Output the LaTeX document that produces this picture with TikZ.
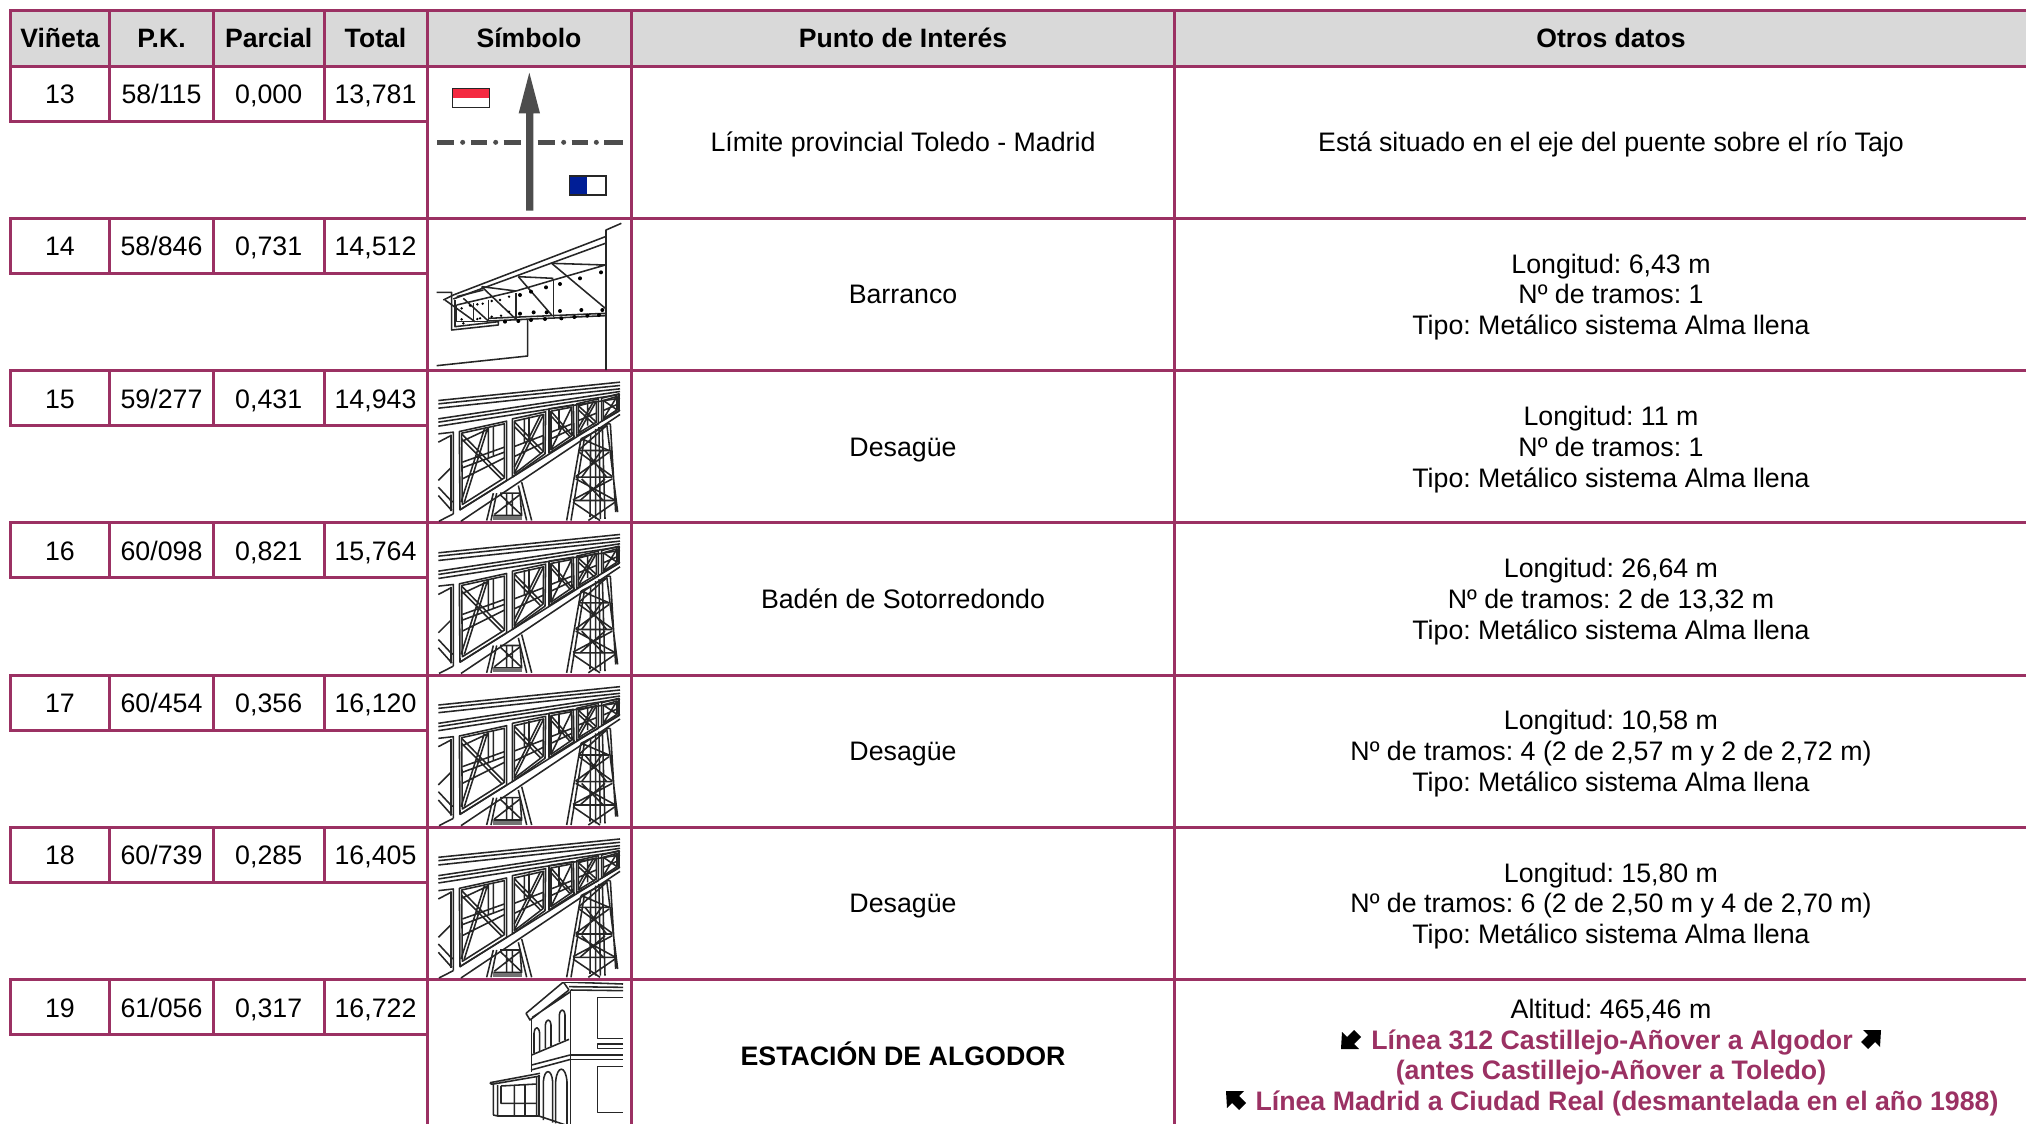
\documentclass[tikz,border=0pt]{standalone}
\usepackage{fontspec}
\setmainfont{Liberation Sans}
\definecolor{plum}{HTML}{9B3163}
\definecolor{headgrey}{HTML}{D9D9D9}
\definecolor{symgrey}{HTML}{4D4D4D}
\definecolor{flagred}{HTML}{F42A41}
\definecolor{flagblue}{HTML}{001E96}
\tikzset{
  gridline/.style={draw=plum,line width=1.5pt},
  celltext/.style={anchor=base,inner sep=0pt,font=\fontsize{13.37}{15.5}\selectfont\frenchspacing,text=black},
  headtext/.style={celltext,font=\fontsize{13.3}{15.5}\selectfont\bfseries},
  linktext/.style={celltext,font=\fontsize{13.37}{15.5}\selectfont\frenchspacing\bfseries,text=plum},
  sketch/.style={draw=black!85,line width=0.78pt,line join=round},
  tinydot/.style={fill=black,draw=none},
}
\newcommand\rowcells[7]{%
  \begin{scope}[shift={(0,#1)}]
    \draw[gridline] (10.3,0) -- (10.3,55) -- (427,55);
    \draw[gridline] (109.7,0) -- (109.7,55);
    \draw[gridline] (213.3,0) -- (213.3,55);
    \draw[gridline] (324.3,0) -- (324.3,55);
    \node[celltext] (v#2) at (60,37.6) {#3};
    \node[celltext] (k#2) at (161.5,37.6) {#4};
    \node[celltext] (p#2) at (268.7,37.6) {#5};
    \node[celltext] (t#2) at (375.5,37.6) {#6};
    \node[celltext] (i#2) at (903,85.6) {#7};
  \end{scope}}
\newcommand\threelines[5]{%
  \begin{scope}[shift={(0,#1)}]
    \node[celltext] (oa#2) at (1611,54.8) {#3};
    \node[celltext] (ob#2) at (1611,85.6) {#4};
    \node[celltext] (oc#2) at (1611,116.6) {#5};
  \end{scope}}
\newcommand\trestle[1]{%
  \begin{scope}[shift={(425,#1)},x=0.16667pt,y=-0.16667pt]
    % deck
    \draw[sketch] (40,90)--(585,35) (40,100)--(585,45) (40,113)--(585,55);
    \draw[sketch] (40,145)--(585,63) (40,155)--(585,72) (40,167)--(585,83);
    % lower chord
    \draw[sketch] (105,418)--(585,118) (108,452)--(585,132) (42,452)--(85,430);
    % left stub
    \draw[sketch] (40,190)--(85,185)--(85,430) (78,192)--(78,422) (40,215)--(78,195) (40,330)--(78,292) (40,350)--(82,395) (40,375)--(80,420);
    % panel 2
    \draw[sketch] (103,183)--(245,152)--(245,330)--(105,418)--cycle;
    \draw[sketch] (110,188)--(238,160)--(238,322)--(112,402)--cycle;
    \draw[sketch] (110,190)--(238,320) (110,205)--(232,328) (188,172)--(118,395) (178,176)--(108,395) (112,275)--(238,230) (112,292)--(238,245) (112,325)--(238,262) (190,172)--(190,265) (205,168)--(205,258) (112,212)--(185,178);
    % panel 3
    \draw[sketch] (262,145)--(362,124)--(360,250)--(262,320)--cycle;
    \draw[sketch] (268,152)--(356,132)--(354,244)--(268,310)--cycle;
    \draw[sketch] (268,154)--(354,242) (268,168)--(346,248) (356,132)--(268,308) (346,134)--(268,290) (268,228)--(355,195) (268,258)--(355,217) (298,142)--(298,215) (312,138)--(312,212);
    % panel 4
    \draw[sketch] (372,115)--(445,103)--(447,200)--(372,248)--cycle;
    \draw[sketch] (378,122)--(440,110)--(441,195)--(378,238)--cycle;
    \draw[sketch] (378,122)--(441,195) (378,136)--(436,200) (440,110)--(378,238) (378,185)--(441,160) (378,205)--(441,175) (402,116)--(402,175);
    % panel 5
    \draw[sketch] (455,100)--(520,85)--(520,160)--(455,196)--cycle;
    \draw[sketch] (460,106)--(514,92)--(514,155)--(460,188)--cycle;
    \draw[sketch] (460,106)--(514,155) (460,118)--(508,162) (514,92)--(460,188) (505,94)--(460,172) (460,150)--(514,128) (488,98)--(488,165);
    % panel 6
    \draw[sketch] (530,83)--(582,70)--(582,122)--(530,152)--cycle;
    \draw[sketch] (535,90)--(576,78)--(576,118)--(535,145)--cycle;
    \draw[sketch] (535,90)--(576,118) (576,78)--(535,145) (535,120)--(576,102);
    % right tower
    \draw[sketch] (468,205)--(425,450) (478,205)--(438,450);
    \draw[sketch] (545,160)--(578,425) (556,160)--(572,425) (545,160)--(556,160);
    \draw[sketch] (497,190)--(495,440) (512,175)--(512,445) (522,170)--(526,445) (532,168)--(540,445);
    \draw[sketch] (468,205)--(545,165) (462,240)--(552,240) (452,320)--(562,320) (444,390)--(570,390);
    \draw[sketch] (462,245)--(562,318) (552,245)--(452,318) (452,325)--(568,388) (562,325)--(444,388) (444,395)--(525,450) (570,395)--(490,450) (470,205)--(552,240) (545,165)--(462,238) (480,240)--(545,320) (530,240)--(470,320) (470,325)--(535,390) (540,325)--(465,390);
    % left small tower
    \draw[sketch] (205,368)--(185,450) (215,368)--(198,450) (290,335)--(320,450) (280,345)--(305,450);
    \draw[sketch] (225,368)--(285,368)--(290,435)--(205,435);
    \draw[sketch] (225,372)--(288,432) (285,372)--(208,432) (245,368)--(245,435) (262,368)--(262,435);
    \fill[black!55] (205,437) rectangle (292,449);
  \end{scope}}
\begin{document}
\begin{tikzpicture}[x=0.5pt,y=-0.5pt]
\useasboundingbox (0,0) rectangle (2026,1124);
\clip (0,0) rectangle (2026,1124);
% header
\fill[headgrey] (10.3,10.3) rectangle (2026,66.3);
\node[headtext] (hv) at (60,47.4) {Viñeta};
\node[headtext] (hk) at (161.5,47.4) {P.K.};
\node[headtext] (hp) at (268.7,47.4) {Parcial};
\node[headtext] (ht) at (375.5,47.4) {Total};
\node[headtext] (hs) at (529,47.4) {Símbolo};
\node[headtext] (hi) at (903,47.4) {Punto de Interés};
\node[headtext] (ho) at (1611,47.4) {Otros datos};
\draw[gridline] (9,10.3) -- (2026,10.3);
\draw[gridline] (9,66.3) -- (2026,66.3);
\draw[gridline] (10.3,10.3) -- (10.3,66.3);
\draw[gridline] (109.7,10.3) -- (109.7,66.3);
\draw[gridline] (213.3,10.3) -- (213.3,66.3);
\draw[gridline] (324.3,10.3) -- (324.3,66.3);
% long verticals
\draw[gridline] (427,10.3) -- (427,1124);
\draw[gridline] (631,10.3) -- (631,1124);
\draw[gridline] (1174.4,10.3) -- (1174.4,1124);
% rows
\foreach \yy in {218.3,370.5,522.8,675,827.3,979.4}
  \draw[gridline] (9,\yy) -- (2026,\yy);
\rowcells{66.3}{a}{13}{58/115}{0,000}{13,781}{Límite provincial Toledo - Madrid}
\rowcells{218.3}{b}{14}{58/846}{0,731}{14,512}{Barranco}
\rowcells{370.5}{c}{15}{59/277}{0,431}{14,943}{Desagüe}
\rowcells{522.8}{d}{16}{60/098}{0,821}{15,764}{Badén de Sotorredondo}
\rowcells{675}{e}{17}{60/454}{0,356}{16,120}{Desagüe}
\rowcells{827.3}{f}{18}{60/739}{0,285}{16,405}{Desagüe}
\rowcells{979.4}{g}{19}{61/056}{0,317}{16,722}{\bfseries ESTACIÓN DE ALGODOR}
\node[celltext] (oaa) at (1611,151.9) {Está situado en el eje del puente sobre el río Tajo};
\threelines{218.3}{b}{Longitud: 6,43 m}{Nº de tramos: 1}{Tipo: Metálico sistema Alma llena}
\threelines{370.5}{c}{Longitud: 11 m}{Nº de tramos: 1}{Tipo: Metálico sistema Alma llena}
\threelines{522.8}{d}{Longitud: 26,64 m}{Nº de tramos: 2 de 13,32 m}{Tipo: Metálico sistema Alma llena}
\threelines{675}{e}{Longitud: 10,58 m}{Nº de tramos: 4 (2 de 2,57 m y 2 de 2,72 m)}{Tipo: Metálico sistema Alma llena}
\threelines{827.3}{f}{Longitud: 15,80 m}{Nº de tramos: 6 (2 de 2,50 m y 4 de 2,70 m)}{Tipo: Metálico sistema Alma llena}
\node[celltext] (oag) at (1611,1018) {Altitud: 465,46 m};
\node[linktext] (obg) at (1612,1049) {Línea 312 Castillejo-Añover a Algodor};
\node[linktext] (ocg) at (1611,1079) {(antes Castillejo-Añover a Toledo)};
\node[linktext] (odg) at (1627,1110) {Línea Madrid a Ciudad Real (desmantelada en el año 1988)};
% block arrows in the last row
\fill[black] (1341,1049) -- (1342,1032) -- (1347,1037) -- (1354,1030) -- (1361,1037) -- (1354,1044) -- (1359,1049) -- cycle;
\fill[black] (1881,1030) -- (1880,1047) -- (1875,1042) -- (1868,1049) -- (1861,1042) -- (1868,1035) -- (1863,1030) -- cycle;
\fill[black] (1226,1091) -- (1227,1108) -- (1232,1103) -- (1239,1110) -- (1246,1103) -- (1239,1096) -- (1244,1091) -- cycle;
% symbol row 13
\begin{scope}[shift={(420,0)},x=0.16667pt,y=-0.16667pt]
  \fill[symgrey] (318,340) -- (296,340) -- (328,218) -- (360,340) -- (340,340) -- (340,632) -- (318,632) -- cycle;
  \draw[symgrey,line width=2.5pt] (52,427)--(103,427) (153,427)--(200,427) (251,427)--(304,427) (353,427)--(405,427) (455,427)--(505,427) (553,427)--(608,427);
  \fill[symgrey] (128,427) circle (7.5) (227,427) circle (7.5) (431,427) circle (7.5) (529,427) circle (7.5);
  \fill[flagred] (97,266) rectangle (208,295);
  \draw[black!85,line width=0.6pt] (97,266) rectangle (208,323);
  \fill[flagblue] (448,528) rectangle (502,585);
  \draw[black!85,line width=0.6pt] (448,528) rectangle (558,585);
\end{scope}
% symbol row 14: bridge
\begin{scope}[shift={(420,215)},x=0.16667pt,y=-0.16667pt]
  \draw[sketch] (558,465)--(558,45)--(604,25);
  \draw[sketch] (100,240)--(556,65) (100,252)--(556,85) (70,255)--(100,240);
  \draw[sketch] (395,145)--(556,150) (295,185)--(400,190) (185,215)--(288,228) (110,245)--(190,225) (110,270)--(288,228)--(400,195)--(556,150);
  \draw[sketch] (205,310)--(556,295) (205,318)--(556,302);
  \draw[sketch] (400,195)--(400,305) (288,235)--(288,315) (205,255)--(205,318) (160,265)--(160,320) (110,270)--(110,320)--(205,320);
  \draw[sketch] (50,232)--(95,232)--(95,345)--(235,330)--(235,318) (105,255)--(105,335)--(235,320);
  \draw[sketch] (50,452)--(323,423)--(323,315);
  \draw[sketch] (75,255)--(165,320) (130,250)--(205,318) (185,215)--(285,310) (295,185)--(395,300) (395,145)--(556,280);
  \foreach \dx/\dy in {420/207,480/190,543/172,420/288,484/285,547/285,300/240,378/217,333/230,300/296,341/292,380/292,424/310,463/306,502/302,537/300,333/315,375/312,295/318,255/320}
    \fill[tinydot] (\dx,\dy) circle (6);
  \foreach \dx/\dy in {267/245,240/255,215/258,267/290,243/302,215/305,188/266,172/268,150/272,125/280,180/310,172/312,125/313,130/325}
    \fill[tinydot] (\dx,\dy) circle (4);
\end{scope}
\trestle{370.5}
\trestle{522.8}
\trestle{675}
\trestle{827.3}
% symbol row 19: station
\begin{scope}
\clip (432,982) rectangle (623,1124);
\begin{scope}[shift={(425,970)},x=0.16667pt,y=-0.16667pt]
  \draw[sketch] (437,60)--(437,470);
  \draw[sketch] (418,36)--(594,42) (437,60)--(594,62) (432,50)--(594,52);
  \draw[sketch] (303,130)--(415,36)--(432,60) (303,130)--(315,150)--(432,60) (322,142)--(437,65);
  \draw[sketch] (320,145)--(320,305);
  \draw[sketch] (327,250)--(327,190) .. controls (330,165) and (342,170) .. (344,190)--(344,244);
  \draw[sketch] (361,235)--(361,165) .. controls (364,145) and (376,145) .. (378,165)--(378,228);
  \draw[sketch] (403,216)--(403,135) .. controls (406,115) and (418,115) .. (420,135)--(420,210);
  \draw[sketch] (320,255)--(432,208) (320,285)--(435,255) (318,300)--(437,268);
  \draw[sketch] (437,255)--(594,255) (437,268)--(594,268);
  \draw[sketch] (594,83)--(518,83)--(518,205)--(594,205);
  \draw[sketch] (594,222)--(518,222)--(518,235)--(594,235);
  \draw[sketch] (594,290)--(518,290)--(518,428)--(594,428);
  \draw[sketch] (195,338)--(345,310) (200,343)--(345,318) (195,338)--(200,343);
  \draw[sketch] (205,342)--(205,435) (218,345)--(218,438) (205,435)--(218,438)--(342,438);
  \draw[sketch] (228,348)--(228,400)--(335,400) (228,348)--(335,342);
  \draw[sketch] (268,345)--(268,440) (300,342)--(300,440) (335,320)--(335,440) (342,315)--(342,438)--(437,470);
  \draw[sketch] (355,450)--(355,335) .. controls (358,295) and (380,295) .. (383,335)--(383,458);
  \draw[sketch] (392,460)--(392,335) .. controls (396,285) and (422,285) .. (426,335)--(426,465);
\end{scope}
\end{scope}
\end{tikzpicture}
\end{document}
